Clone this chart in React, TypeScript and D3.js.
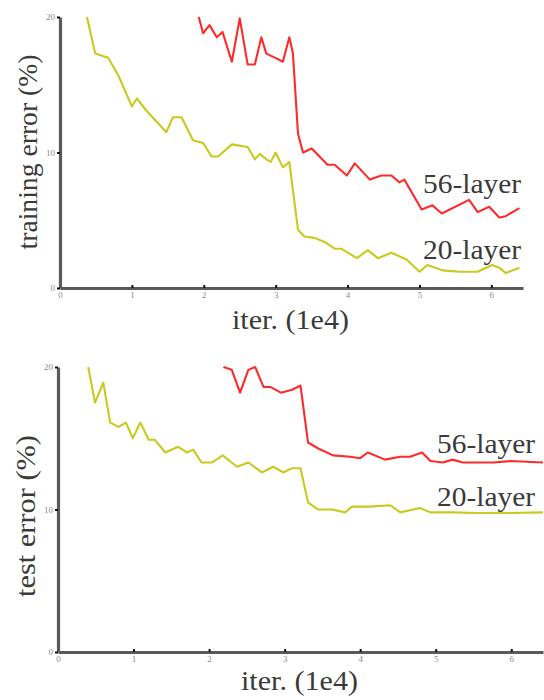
import React, { useRef, useEffect } from "react";
import * as d3 from "d3";

// training error, 20-layer
const train20Iter = [0.375, 0.49, 0.67, 0.81, 1.0, 1.07, 1.2, 1.48, 1.57, 1.69, 1.85, 1.99, 2.11, 2.2, 2.39, 2.61, 2.71, 2.78, 2.87, 2.93, 3.0, 3.1, 3.19, 3.31, 3.4, 3.54, 3.68, 3.82, 3.91, 4.13, 4.28, 4.42, 4.61, 4.82, 5.0, 5.11, 5.32, 5.56, 5.81, 6.01, 6.11, 6.2, 6.39];
const train20Err = [20, 17.3, 17.0, 15.7, 13.4, 14.0, 13.1, 11.5, 12.6, 12.6, 10.9, 10.7, 9.7, 9.7, 10.6, 10.4, 9.5, 9.9, 9.5, 9.3, 10.0, 8.9, 9.3, 4.3, 3.8, 3.7, 3.4, 2.9, 2.9, 2.2, 2.8, 2.2, 2.6, 2.1, 1.2, 1.7, 1.3, 1.2, 1.2, 1.7, 1.5, 1.1, 1.5];

// training error, 56-layer
const train56Iter = [1.93, 1.99, 2.08, 2.18, 2.26, 2.39, 2.5, 2.61, 2.71, 2.8, 2.87, 2.99, 3.1, 3.19, 3.24, 3.31, 3.38, 3.5, 3.61, 3.72, 3.82, 3.99, 4.1, 4.31, 4.47, 4.61, 4.72, 4.79, 5.03, 5.18, 5.31, 5.69, 5.81, 5.97, 6.11, 6.2, 6.39];
const train56Err = [20, 18.8, 19.4, 18.5, 18.9, 16.7, 19.9, 16.5, 16.5, 18.5, 17.3, 17.0, 16.7, 18.5, 17.3, 11.4, 10.0, 10.3, 9.7, 9.1, 9.1, 8.3, 9.2, 8.0, 8.3, 8.3, 7.8, 8.0, 5.8, 6.1, 5.5, 6.5, 5.6, 6.0, 5.2, 5.3, 5.9];

// test error, 20-layer
const test20Iter = [0.4, 0.49, 0.6, 0.69, 0.8, 0.9, 0.99, 1.09, 1.2, 1.28, 1.42, 1.59, 1.71, 1.79, 1.9, 2.04, 2.18, 2.37, 2.52, 2.7, 2.85, 2.98, 3.1, 3.21, 3.31, 3.44, 3.63, 3.8, 3.89, 4.13, 4.4, 4.53, 4.79, 4.93, 5.22, 5.55, 5.99, 6.42];
const test20Err = [20, 17.5, 18.9, 16.1, 15.8, 16.1, 15.0, 16.1, 14.9, 14.9, 14.0, 14.4, 14.0, 14.2, 13.3, 13.3, 13.8, 13.0, 13.3, 12.6, 13.0, 12.6, 12.9, 12.9, 10.5, 10.0, 10.0, 9.8, 10.2, 10.2, 10.3, 9.8, 10.1, 9.8, 9.8, 9.75, 9.75, 9.8];

// test error, 56-layer
const test56Iter = [2.19, 2.3, 2.41, 2.52, 2.61, 2.72, 2.81, 2.95, 3.1, 3.21, 3.31, 3.44, 3.64, 3.87, 4.0, 4.1, 4.33, 4.53, 4.66, 4.82, 4.93, 5.1, 5.22, 5.36, 5.76, 5.99, 6.42];
const test56Err = [20, 19.8, 18.2, 19.8, 20, 18.6, 18.6, 18.2, 18.4, 18.7, 14.7, 14.3, 13.8, 13.7, 13.6, 14.0, 13.5, 13.7, 13.7, 14.0, 13.4, 13.3, 13.5, 13.3, 13.3, 13.4, 13.3];

const xTicks = [0, 1, 2, 3, 4, 5, 6];
const yTicks = [0, 10, 20];
const seriesNames = ["56-layer", "20-layer"];

const RED = "#ff2b2b";
const YELLOW = "#c9c91f";
const FONT = "'Liberation Serif', 'Times New Roman', serif";

export default function App() {
  const ref = useRef<SVGSVGElement>(null);

  useEffect(() => {
    if (!ref.current) return;
    const svg = d3.select(ref.current);
    svg.selectAll("*").remove();

    const panels = [
      {
        xr: [60, 523], xmax: 6.44, yr: [288, 17],
        ylabel: "training error (%)", ylabelY: 152, ylabelX: 37, ylabelLen: 195,
        xlabelX: 232, xlabelY: 329,
        series: [
          { it: train56Iter, err: train56Err, color: RED },
          { it: train20Iter, err: train20Err, color: YELLOW },
        ],
        names: [{ x: 423, y: 193 }, { x: 423, y: 259 }],
      },
      {
        xr: [58, 543], xmax: 6.42, yr: [652, 367],
        ylabel: "test error (%)", ylabelY: 516, ylabelX: 35, ylabelLen: 162,
        xlabelX: 241, xlabelY: 690,
        series: [
          { it: test56Iter, err: test56Err, color: RED },
          { it: test20Iter, err: test20Err, color: YELLOW },
        ],
        names: [{ x: 437, y: 453 }, { x: 437, y: 506 }],
      },
    ];

    panels.forEach((p) => {
      const x = d3.scaleLinear().domain([0, p.xmax]).range(p.xr);
      const y = d3.scaleLinear().domain([0, 20]).range(p.yr);
      const g = svg.append("g");

      p.series.forEach((s) => {
        const pts: [number, number][] = s.it.map((v, i) => [x(v), y(s.err[i])]);
        g.append("path")
          .attr("d", d3.line()(pts))
          .attr("fill", "none")
          .attr("stroke", s.color)
          .attr("stroke-width", 2.1)
          .attr("stroke-linejoin", "round");
      });

      // axes
      const fmt = d3.format("d");
      const xAxis = g
        .append("g")
        .attr("transform", `translate(0, ${p.yr[0]})`)
        .call(d3.axisBottom(x).tickValues(xTicks).tickFormat(fmt).tickSizeInner(-3).tickSizeOuter(0).tickPadding(4));
      const yAxis = g
        .append("g")
        .attr("transform", `translate(${p.xr[0]}, 0)`)
        .call(d3.axisLeft(y).tickValues(yTicks).tickFormat(fmt).tickSizeInner(3).tickSizeOuter(0).tickPadding(2));

      [xAxis, yAxis].forEach((a) => {
        a.select(".domain").attr("stroke", "#5a5a5a").attr("stroke-width", 3.2);
        a.selectAll(".tick line").attr("stroke", "#111").attr("stroke-width", 2);
        a.selectAll(".tick text")
          .attr("fill", "#8a8a8a")
          .attr("font-family", FONT)
          .attr("font-size", 9);
      });

      // axis labels
      g.append("text")
        .attr("transform", `translate(${p.ylabelX}, ${p.ylabelY}) rotate(-90)`)
        .attr("text-anchor", "middle")
        .attr("textLength", p.ylabelLen)
        .attr("lengthAdjust", "spacingAndGlyphs")
        .attr("font-family", FONT)
        .attr("font-size", 28)
        .attr("fill", "#3a3a3a")
        .text(p.ylabel);

      g.append("text")
        .attr("x", p.xlabelX)
        .attr("y", p.xlabelY)
        .attr("textLength", 117)
        .attr("lengthAdjust", "spacingAndGlyphs")
        .attr("font-family", FONT)
        .attr("font-size", 27)
        .attr("fill", "#3a3a3a")
        .text("iter. (1e4)");

      // series names
      seriesNames.forEach((n, i) => {
        g.append("text")
          .attr("x", p.names[i].x)
          .attr("y", p.names[i].y)
          .attr("textLength", 98)
          .attr("lengthAdjust", "spacingAndGlyphs")
          .attr("font-family", FONT)
          .attr("font-size", 28)
          .attr("fill", "#3a3a3a")
          .text(n);
      });
    });
  }, []);

  return (
    <svg
      ref={ref}
      width={544}
      height={700}
      style={{ position: "absolute", left: 0, top: 0, background: "#fff" }}
    />
  );
}
